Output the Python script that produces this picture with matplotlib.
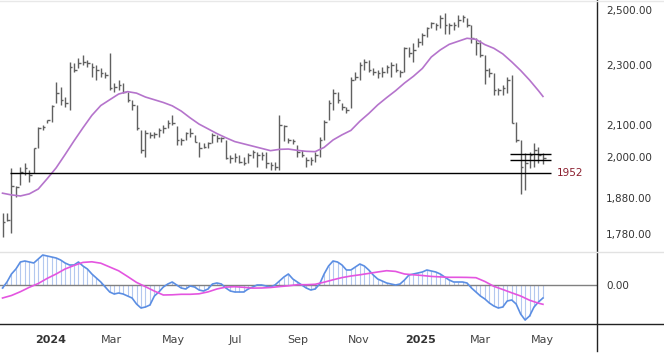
import matplotlib
matplotlib.use("Agg")
import numpy as np
import pandas as pd
from matplotlib import pyplot as plt
from matplotlib.lines import Line2D
from matplotlib.ticker import FixedLocator, NullLocator, FixedFormatter

# price bars (one bar every few sessions)
bar_high = [1838, 1838, 1967, 1914, 1970, 1982, 1961, 2027, 2093, 2099,
            2115, 2164, 2240, 2224, 2190, 2310, 2306, 2324, 2334, 2317,
            2306, 2299, 2289, 2275, 2341, 2237, 2247, 2237, 2207, 2180,
            2164, 2084, 2084, 2077, 2077, 2090, 2099, 2115, 2131, 2096,
            2058, 2077, 2090, 2068, 2046, 2043, 2046, 2074, 2068, 2061,
            2052, 2006, 2012, 2006, 2000, 2012, 2021, 2015, 2015, 2015,
            1985, 1985, 2131, 2099, 2058, 2055, 2036, 2021, 2000, 2000,
            2015, 2061, 2115, 2180, 2217, 2207, 2170, 2158, 2257, 2275,
            2310, 2320, 2317, 2289, 2282, 2292, 2299, 2310, 2306, 2282,
            2363, 2363, 2377, 2395, 2413, 2435, 2454, 2450, 2480, 2488,
            2450, 2454, 2480, 2480, 2469, 2443, 2395, 2388, 2334, 2289,
            2271, 2220, 2230, 2257, 2264, 2109, 2052, 2012, 2015, 2043,
            2030, 2012]
bar_low = [1772, 1815, 1783, 1882, 1917, 1946, 1926, 1952, 2027, 2084,
           2105, 2109, 2170, 2164, 2158, 2148, 2275, 2289, 2299, 2292,
           2257, 2247, 2257, 2254, 2214, 2207, 2214, 2204, 2174, 2148,
           2084, 2012, 2000, 2058, 2058, 2061, 2074, 2090, 2099, 2036,
           2036, 2052, 2061, 2046, 2000, 2027, 2027, 2043, 2046, 2046,
           1994, 1982, 1985, 1982, 1976, 1982, 1997, 1970, 1991, 1967,
           1961, 1961, 1961, 2049, 2043, 2040, 2000, 2000, 1970, 1976,
           1985, 2000, 2052, 2115, 2148, 2170, 2148, 2138, 2155, 2247,
           2247, 2282, 2275, 2264, 2254, 2257, 2271, 2257, 2275, 2257,
           2275, 2327, 2310, 2363, 2370, 2399, 2431, 2424, 2431, 2410,
           2410, 2424, 2435, 2454, 2435, 2377, 2334, 2327, 2234, 2257,
           2197, 2197, 2197, 2204, 2105, 2046, 1892, 1902, 1967, 1970,
           1982, 1979]
bar_close = [1813, 1818, 1914, 1912, 1955, 1967, 1946, 2027, 2090, 2093,
             2115, 2161, 2204, 2180, 2170, 2292, 2282, 2306, 2310, 2306,
             2292, 2282, 2271, 2264, 2220, 2224, 2230, 2207, 2180, 2164,
             2090, 2021, 2074, 2068, 2071, 2084, 2090, 2105, 2105, 2052,
             2052, 2074, 2074, 2046, 2027, 2030, 2043, 2068, 2058, 2058,
             1997, 1997, 2000, 1985, 1982, 2006, 2015, 2006, 2006, 1982,
             1976, 1970, 2099, 2096, 2052, 2049, 2015, 2006, 1991, 1991,
             2006, 2052, 2109, 2170, 2204, 2180, 2158, 2148, 2247, 2257,
             2299, 2310, 2282, 2275, 2271, 2275, 2292, 2299, 2282, 2275,
             2359, 2341, 2352, 2381, 2406, 2431, 2450, 2443, 2469, 2443,
             2443, 2443, 2461, 2473, 2443, 2395, 2377, 2334, 2282, 2271,
             2214, 2214, 2220, 2247, 2105, 2052, 1970, 1982, 2006, 2021,
             2006, 1997]

# moving average, sampled every 2nd bar
ma_idx = list(range(0, 121, 2)) + [121]
ma_vals = [1893, 1888, 1885, 1891, 1905, 1935, 1967, 2007, 2049, 2090,
           2130, 2162, 2181, 2200, 2208, 2203, 2190, 2181, 2172, 2161,
           2144, 2122, 2102, 2087, 2072, 2059, 2047, 2040, 2033, 2026,
           2019, 2023, 2024, 2020, 2017, 2016, 2029, 2052, 2068, 2082,
           2111, 2136, 2164, 2188, 2211, 2237, 2260, 2287, 2327, 2352,
           2372, 2383, 2394, 2390, 2371, 2358, 2338, 2310, 2280, 2247,
           2211, 2192]

# oscillator (blue) per bar and its signal (magenta)
osc = [-3, 3, 11, 16, 23, 24, 23, 22, 26, 30,
       29, 28, 27, 25, 22, 20, 20, 23, 19, 16,
       11, 7, 3, -2, -7, -9, -8, -9, -11, -13,
       -19, -23, -22, -20, -11, -7, -2, 1, 3, 0,
       -3, -4, -1, -2, -5, -6, -4, 1, 2, 1,
       -3, -6, -7, -7, -7, -4, -2, 0, 0, -1,
       -2, 0, 4, 8, 11, 6, 3, 0, -3, -5,
       -4, 1, 11, 19, 24, 23, 20, 15, 15, 18,
       21, 19, 15, 10, 6, 4, 2, 1, 0, 1,
       5, 10, 11, 12, 13, 15, 14, 13, 11, 8,
       5, 3, 3, 3, 2, -3, -7, -11, -14, -18,
       -21, -23, -22, -16, -15, -19, -29, -35, -31, -22,
       -17, -13]
sig_idx = list(range(0, 121, 2)) + [121]
sig_vals = [-13, -10.5, -6.7, -2.3, 1.5, 6.6, 11, 16, 19.5, 22.6,
            23.2, 21.8, 18, 14.2, 8.5, 2.6, -1.7, -6.1, -10, -9.8,
            -9.3, -9.3, -8.8, -6.9, -4, -2.1, -1.7, -2.3, -3.1, -3,
            -2.5, -1.6, -0.8, 0.3, 0.3, 0.7, 2.8, 5.2, 7.4, 9,
            10.2, 11.6, 13, 14.3, 13.6, 11, 10.2, 9.5, 8.6, 8.1,
            7.7, 7.7, 7.6, 7.3, 3.5, -1.3, -4.5, -7.8, -11, -15.2,
            -18.2, -19.3]

support_level = 1952
support_span = ("2023-11-21", "2025-05-10")
box_levels = [2009, 1991]
box_span = ("2025-03-30", "2025-05-10")

price_ticks = [1780, 1880, 2000, 2100, 2300, 2500]
price_labels = ["1,780.00", "1,880.00", "2,000.00", "2,100.00", "2,300.00", "2,500.00"]
month_ticks = ["2024-01-01", "2024-03-01", "2024-05-01", "2024-07-01", "2024-09-01",
               "2024-11-01", "2025-01-01", "2025-03-01", "2025-05-01"]
month_labels = ["2024", "Mar", "May", "Jul", "Sep", "Nov", "2025", "Mar", "May"]

dates = pd.date_range("2023-11-14", "2025-05-02", periods=len(bar_close))
x_left = pd.Timestamp("2023-11-11 12:00")
x_right = pd.Timestamp("2025-06-24 12:00")

plt.rcParams['font.family'] = ['DejaVu Sans']
fig = plt.figure(figsize=(6.64, 3.54), dpi=100)
W, H = 664, 354
axp = fig.add_axes([0, 1 - 245 / H, 597 / W, 245 / H])
axo = fig.add_axes([0, 1 - 324 / H, 597 / W, 72 / H], sharex=axp)

bar_col = "#606060"
tick_len = pd.Timedelta(days=2.6)
axp.vlines(dates, bar_low, bar_high, color=bar_col, lw=1.0)
axp.hlines(bar_close, dates, dates + tick_len, color=bar_col, lw=1.0)
axp.plot(dates[ma_idx], ma_vals, color="#b574cc", lw=1.2)

axp.hlines(support_level, pd.Timestamp(support_span[0]), pd.Timestamp(support_span[1]),
           color="black", lw=1.0)
for lv in box_levels:
    axp.hlines(lv, pd.Timestamp(box_span[0]), pd.Timestamp(box_span[1]), color="black", lw=1.0)
axp.text(557 / 597, support_level, str(support_level), transform=axp.get_yaxis_transform(),
         color="#8b1e2e", fontsize=7.5, va="center", ha="left")

axp.set_yscale("log")
axp.set_ylim(1750, 2537)
axp.yaxis.set_major_locator(FixedLocator(price_ticks))
axp.yaxis.set_major_formatter(FixedFormatter(price_labels))
axp.yaxis.set_minor_locator(NullLocator())
axp.yaxis.tick_right()
axp.tick_params(axis="y", length=0, pad=6.5, labelsize=7.5, labelcolor="#333333")
axp.tick_params(axis="x", length=0, labelbottom=False)
for s in axp.spines.values():
    s.set_visible(False)

# oscillator panel
axo.vlines(dates, 0, osc, color="#b3c8ef", lw=0.8)
axo.axhline(0, color="#808080", lw=1.0)
axo.plot(dates, osc, color="#5b8ee3", lw=1.2)
axo.plot(dates[sig_idx], sig_vals, color="#e455e0", lw=1.2)
axo.set_ylim(-39, 33)
axo.set_yticks([0])
axo.set_yticklabels(["0.00"])
axo.yaxis.tick_right()
axo.tick_params(axis="y", length=0, pad=6.5, labelsize=7.5, labelcolor="#333333")
for s in axo.spines.values():
    s.set_visible(False)

axo.set_xlim(x_left, x_right)
axo.set_xticks(pd.to_datetime(month_ticks))
axo.set_xticklabels(month_labels)
axo.tick_params(axis="x", length=0, pad=8, labelsize=8, labelcolor="#444444")
for lab in axo.get_xticklabels():
    if lab.get_text().isdigit():
        lab.set_fontweight("bold")
        lab.set_color("#333333")

# frame lines
fig.add_artist(Line2D([597 / W, 597 / W], [3 / H, 1], color="#222222", lw=1.0))
fig.add_artist(Line2D([0, 1], [1 - 324 / H, 1 - 324 / H], color="#222222", lw=1.0))
fig.add_artist(Line2D([0, 1], [1 - 252 / H, 1 - 252 / H], color="#e2e2e2", lw=1.0))
fig.add_artist(Line2D([0, 1], [1 - 1 / H, 1 - 1 / H], color="#e8e8e8", lw=1.0))

fig.savefig("out.png", dpi=100, facecolor="white")
